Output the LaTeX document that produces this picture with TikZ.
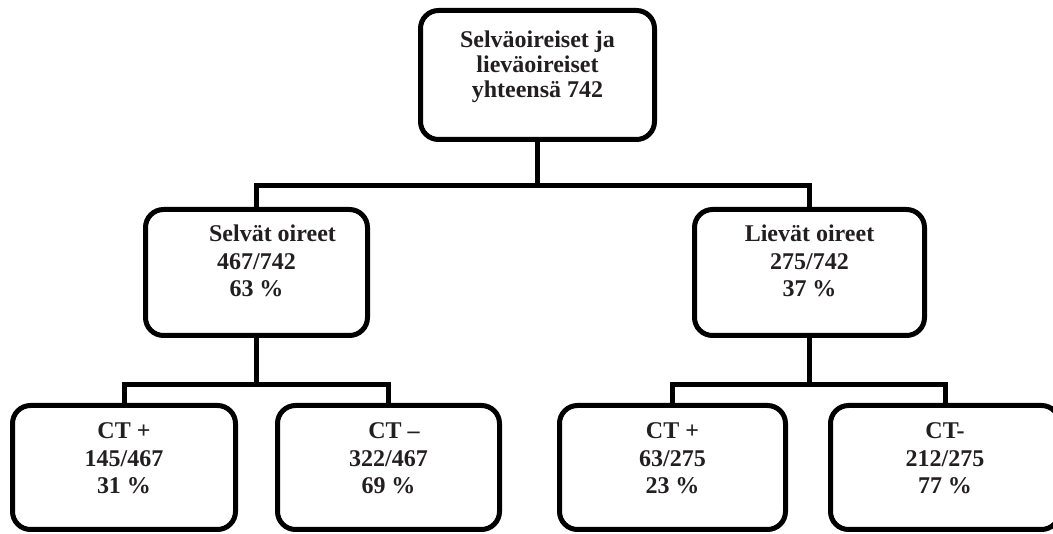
\documentclass[tikz,border=0pt]{standalone}
\usepackage{fontspec}
\setmainfont{Liberation Serif}
\usetikzlibrary{positioning}
\definecolor{txtgray}{HTML}{231F20}
\newcommand{\boxlines}[2]{\parbox[c][#1][t]{210pt}{\centering\strut #2}}

\begin{document}
\begin{tikzpicture}[
      x=1pt, y=-1pt,
      cbox/.style={
        draw=black,
        line width=5pt,
        rounded corners=18pt,
        inner sep=0pt,
        align=center,
        text=txtgray,
        font=\fontsize{24}{27.5}\selectfont\bfseries
      },
      conn/.style={
        line width=5pt,
        line join=miter
      }
    ]

    \useasboundingbox (0,0) rectangle (1053,534);
    \clip (0,0) rectangle (1053,534);

    \node[cbox, minimum width=234pt, minimum height=129pt,
      font=\fontsize{24}{25}\selectfont\bfseries] (all) at (537.5,75)
      {\boxlines{89pt}{Selväoireiset ja\\lieväoireiset\\yhteensä 742}};

    \node[cbox, minimum width=222pt, minimum height=126pt] (selv) at (256.5,272.5)
      {\boxlines{100pt}{\hspace*{32pt}Selvät oireet\\467/742\hspace*{28pt}\\63 \%}};

    \node[cbox, minimum width=230pt, minimum height=126pt] (liev) at (809.5,272.5)
      {\boxlines{100pt}{Lievät oireet\\275/742\\37 \%}};

    \node[cbox, minimum width=223pt, minimum height=124pt] (selvpos) at (124,467.5)
      {\boxlines{96pt}{CT +\\145/467\\31 \%}};

    \node[cbox, minimum width=222pt, minimum height=124pt] (selvneg) at (388.5,467.5)
      {\boxlines{96pt}{\hspace*{11pt}CT --\\322/467\\69 \%}};

    \node[cbox, minimum width=226pt, minimum height=124pt] (lievpos) at (672.5,467.5)
      {\boxlines{96pt}{CT +\\63/275\\23 \%}};

    \node[cbox, minimum width=229pt, minimum height=124pt] (lievneg) at (945,467.5)
      {\boxlines{96pt}{CT-\\212/275\\77 \%}};

    \draw[conn] (all.south) -- ++(0,43.5) -| (selv.north);
    \draw[conn] (all.south) -- ++(0,43.5) -| (liev.north);

    \draw[conn] (selv.south) -- ++(0,46.5) -| (selvpos.north);
    \draw[conn] (selv.south) -- ++(0,46.5) -| (selvneg.north);

    \draw[conn] (liev.south) -- ++(0,46.5) -| (lievpos.north);
    \draw[conn] (liev.south) -- ++(0,46.5) -| (lievneg.north);

  \end{tikzpicture}
\end{document}
